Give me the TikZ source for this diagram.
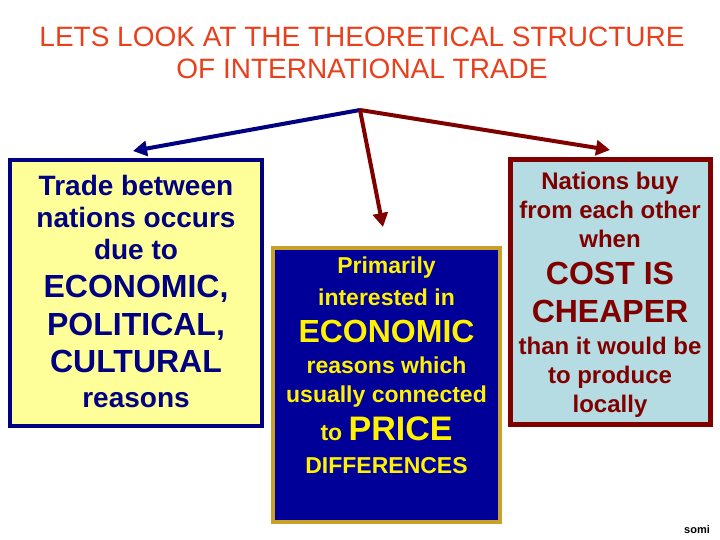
\documentclass[tikz,border=0pt]{standalone}
\usepackage{fontspec}
\setmainfont{Liberation Sans}
\usepackage{tikz}
\usepackage{xcolor}
\usetikzlibrary{arrows.meta}
\definecolor{titlered}{HTML}{E8401C}
\definecolor{navyblue}{HTML}{000080}
\definecolor{deepblue}{HTML}{000099}
\definecolor{darkred}{HTML}{800000}
\definecolor{paleyellow}{HTML}{FFFF99}
\definecolor{paleblue}{HTML}{B4DCE2}
\definecolor{goldline}{HTML}{C8A02A}
\tikzset{
    yellow-box/.style = {draw=navyblue, fill=paleyellow, line width=4pt, rectangle, minimum width=252pt, minimum height=266pt},
    navy-box/.style = {draw=goldline, fill=deepblue, line width=4pt, rectangle, minimum width=227pt, minimum height=274pt},
    blue-box/.style = {draw=darkred, fill=paleblue, line width=5pt, rectangle, minimum width=200pt, minimum height=264pt},
    box-text/.style = {anchor=north, align=center, inner sep=0pt, font=\bfseries},
    branch/.style = {line width=4pt, -{Triangle[length=14pt,width=15pt]}},
}
\newcommand{\fs}[2]{\fontsize{#1}{#2}\selectfont}

\begin{document}
\begin{tikzpicture}[x=1pt, y=-1pt]
\useasboundingbox (0,0) rectangle (720,540);
\node[align=center, text=titlered, inner sep=0pt, font=\fs{28}{32}] (title) at (362,53)
    {LETS LOOK AT THE THEORETICAL STRUCTURE\\OF INTERNATIONAL TRADE};

\node[yellow-box] (left) at (136,293) {};
\node[navy-box] (middle) at (386.5,385) {};
\node[blue-box] (right) at (610,292) {};

\node[box-text, text=navyblue, font=\bfseries\fs{28}{32}] (left-text) at (136,175)
    {Trade between\\ nations occurs\\ due to\\[6pt]
     {\fs{32}{38}ECONOMIC,}\\[6pt] {\fs{32}{38}POLITICAL,}\\[5pt] {\fs{32}{38}CULTURAL}\\[3pt] reasons};
\node[box-text, text=yellow, font=\bfseries\fs{23}{29}] (middle-text) at (386.5,257)
    {Primarily\\[3pt] interested in\\[8pt] {\fs{32}{38}ECONOMIC}\\[2pt] reasons which\\ usually connected\\[9pt]
     to {\fs{34}{38}PRICE}\\[4pt] DIFFERENCES};
\node[box-text, text=darkred, font=\bfseries\fs{24}{29}] (right-text) at (610,172)
    {Nations buy\\ from each other\\ when\\[8pt] {\fs{32}{38}COST IS}\\[9pt] {\fs{32}{38}CHEAPER}\\[3pt]
     than it would be\\ to produce\\ locally};

% arrows from the top
\coordinate (top) at (360,110);
\coordinate (left-tip) at (133,151);
\coordinate (middle-tip) at (383,227);
\coordinate (right-tip) at (610,150);
\draw[branch, navyblue] (top) -- (left-tip);
\draw[branch, darkred] (top) -- (middle-tip);
\draw[branch, darkred] (top) -- (right-tip);

\node[font=\bfseries\fs{11}{13}, inner sep=0pt] (somi) at (697,530) {somi};
\end{tikzpicture}
\end{document}
